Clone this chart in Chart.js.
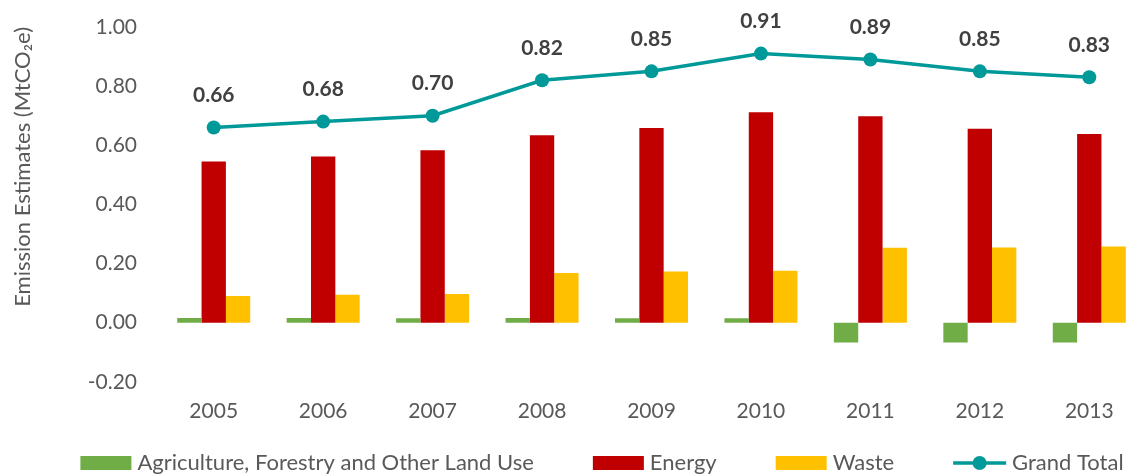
<!DOCTYPE html>
<html>
<head>
<meta charset="utf-8">
<script src="https://cdn.jsdelivr.net/npm/chart.js@4/dist/chart.umd.min.js"></script>
<style>
  html, body { margin: 0; padding: 0; background: #fff; overflow: hidden; }
  #wrap { position: relative; width: 1204px; height: 475px; }
</style>
</head>
<body>
<div id="wrap"><canvas id="emissions"></canvas></div>
<script>
const years = ['2005', '2006', '2007', '2008', '2009', '2010', '2011', '2012', '2013'];
const afolu = [0.016, 0.016, 0.015, 0.016, 0.015, 0.015, -0.067, -0.067, -0.067];
const energy = [0.545, 0.562, 0.583, 0.634, 0.658, 0.712, 0.698, 0.656, 0.638];
const waste = [0.090, 0.094, 0.097, 0.168, 0.173, 0.176, 0.253, 0.254, 0.258];
const grandTotal = [0.66, 0.68, 0.70, 0.82, 0.85, 0.91, 0.89, 0.85, 0.83];
const yTicks = [-0.2, 0, 0.2, 0.4, 0.6, 0.8, 1.0];

const TEXT_GREY = '#595959';
const LABEL_DARK = '#404040';
const TEAL = '#009999';

Chart.defaults.font.family = "Lato, 'Open Sans', sans-serif";
Chart.defaults.color = TEXT_GREY;

/* ── value labels over the Grand Total points ── */
const totalLabels = {
  id: 'totalLabels',
  afterDatasetsDraw(chart) {
    const idx = chart.data.datasets.findIndex(d => d.type === 'line');
    const meta = chart.getDatasetMeta(idx);
    const ctx = chart.ctx;
    ctx.save();
    ctx.font = "bold 21px Lato, 'Open Sans', sans-serif";
    ctx.fillStyle = LABEL_DARK;
    ctx.textAlign = 'center';
    ctx.textBaseline = 'middle';
    meta.data.forEach((pt, i) => {
      ctx.fillText(chart.data.datasets[idx].data[i].toFixed(2), pt.x, pt.y - 32);
    });
    ctx.restore();
  }
};

/* ── legend row: wide swatches, spaced out, centred under the chart ── */
const wideLegend = {
  id: 'wideLegend',
  afterDraw(chart) {
    const ctx = chart.ctx;
    const y = 463;
    const gapText = 6, gapItem = 59;
    ctx.save();
    ctx.font = "22px Lato, 'Open Sans', sans-serif";
    ctx.textBaseline = 'middle';
    const items = chart.data.datasets.map(ds => ({
      ds, sw: ds.type === 'line' ? 53 : 51, tw: ctx.measureText(ds.label).width
    }));
    const total = items.reduce((s, it) => s + it.sw + gapText + it.tw, 0) + gapItem * (items.length - 1);
    let x = chart.width / 2 - total / 2;
    items.forEach(it => {
      if (it.ds.type === 'line') {
        ctx.strokeStyle = it.ds.borderColor;
        ctx.lineWidth = 3.5;
        ctx.beginPath();
        ctx.moveTo(x, y);
        ctx.lineTo(x + it.sw, y);
        ctx.stroke();
        ctx.fillStyle = it.ds.borderColor;
        ctx.beginPath();
        ctx.arc(x + it.sw / 2, y, 7, 0, Math.PI * 2);
        ctx.fill();
      } else {
        ctx.fillStyle = it.ds.backgroundColor;
        ctx.fillRect(x, y - 7, it.sw, 14);
      }
      x += it.sw + gapText;
      ctx.fillStyle = TEXT_GREY;
      ctx.textAlign = 'left';
      ctx.fillText(it.ds.label, x, y);
      x += it.tw + gapItem;
    });
    ctx.restore();
  }
};

const barCommon = { categoryPercentage: 0.667, barPercentage: 1, order: 1 };

new Chart(document.getElementById('emissions'), {
  type: 'bar',
  data: {
    labels: years,
    datasets: [
      { ...barCommon, label: 'Agriculture, Forestry and Other Land Use', data: afolu, backgroundColor: '#70AD47' },
      { ...barCommon, label: 'Energy', data: energy, backgroundColor: '#C00000' },
      { ...barCommon, label: 'Waste', data: waste, backgroundColor: '#FFC000' },
      {
        type: 'line', label: 'Grand Total', data: grandTotal, order: 0,
        borderColor: TEAL, backgroundColor: TEAL, borderWidth: 3.5,
        pointRadius: 7, pointBackgroundColor: TEAL, pointBorderWidth: 0, tension: 0
      }
    ]
  },
  options: {
    responsive: true,
    maintainAspectRatio: false,
    animation: false,
    layout: { padding: { top: 27, right: 60, bottom: 34, left: 0 } },
    plugins: {
      legend: { display: false },
      tooltip: { enabled: false }
    },
    scales: {
      x: {
        grid: { display: false, drawTicks: false },
        border: { display: false },
        ticks: { padding: 17, font: { size: 21 }, color: TEXT_GREY }
      },
      y: {
        min: -0.2,
        max: 1.0,
        // fixed axis width; drop the tick padding from the vertical margins
        afterFit: (scale) => {
          scale.width = 159;
          scale.paddingTop = 13;
          scale.paddingBottom = 13;
        },
        afterBuildTicks: (scale) => { scale.ticks = yTicks.map(v => ({ value: v })); },
        grid: { display: false, drawTicks: false },
        border: { display: false },
        ticks: { padding: 22, font: { size: 21 }, color: TEXT_GREY, callback: v => v.toFixed(2) },
        title: {
          display: true,
          text: 'Emission Estimates (MtCO₂e)',
          color: TEXT_GREY,
          font: { size: 22 },
          align: 'end',
          padding: { top: 10, bottom: 0 }
        }
      }
    }
  },
  plugins: [totalLabels, wideLegend]
});
</script>
</body>
</html>
